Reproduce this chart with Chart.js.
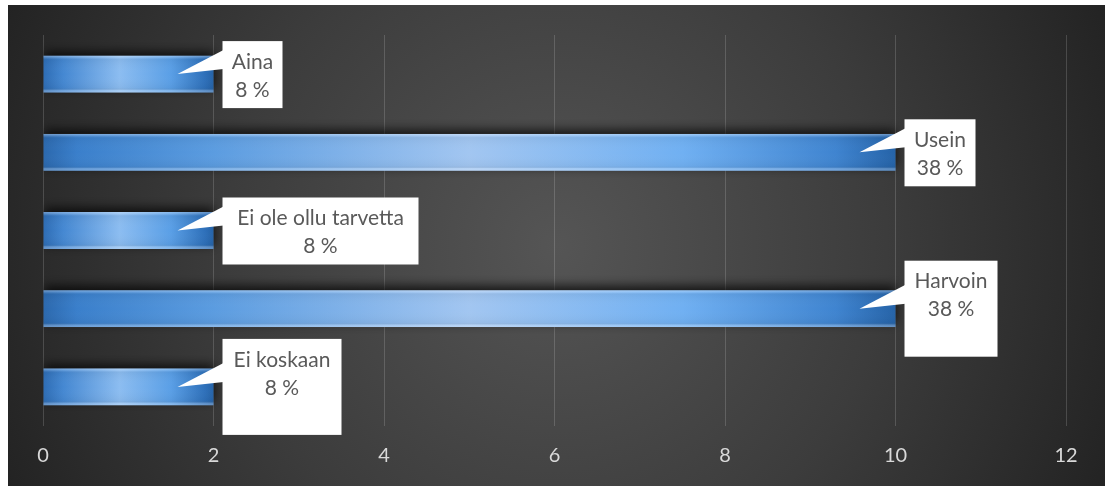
<!DOCTYPE html>
<html>
<head>
<meta charset="utf-8">
<script src="https://cdn.jsdelivr.net/npm/chart.js@4.4.1/dist/chart.umd.min.js"></script>
<style>
  html, body { margin: 0; padding: 0; background: #ffffff; }
  #wrap { width: 1105px; height: 486px; position: relative; }
</style>
</head>
<body>
<div id="wrap"><canvas id="c" width="1105" height="486"></canvas></div>
<script>
// ---- data ----
const categories = ["Aina", "Usein", "Ei ole ollu tarvetta", "Harvoin", "Ei koskaan"];
const counts = [2, 10, 2, 10, 2];
const percentLabels = ["8 %", "38 %", "8 %", "38 %", "8 %"];
const xTicks = [0, 2, 4, 6, 8, 10, 12];

// ---- callout box styling (sizes only, not data) ----
const calloutBoxes = [
  { w: 60,  h: 67, top: -33 },
  { w: 71,  h: 67, top: -33 },
  { w: 196, h: 67, top: -33 },
  { w: 93,  h: 96, top: -48 },
  { w: 119, h: 96, top: -48 }
];

const FONT = "Lato, 'Open Sans', sans-serif";

const bgPlugin = {
  id: 'bg',
  beforeDraw(chart) {
    const ctx = chart.ctx, W = chart.width, H = chart.height;
    ctx.save();
    ctx.fillStyle = '#ffffff';
    ctx.fillRect(0, 0, W, H);
    const x0 = 8, y0 = 5;
    const cx = (x0 + W) / 2, cy = (y0 + H) / 2;
    const g = ctx.createRadialGradient(cx, cy, 0, cx, cy, 600);
    g.addColorStop(0, '#555555');
    g.addColorStop(0.55, '#3c3c3c');
    g.addColorStop(1, '#232323');
    ctx.fillStyle = g;
    ctx.fillRect(x0, y0, W - x0, H - y0);
    ctx.restore();
  }
};

function barGradient(ctx, x0, x1, long) {
  const g = ctx.createLinearGradient(x0, 0, x1, 0);
  if (long) {
    g.addColorStop(0, '#2b68ad');
    g.addColorStop(0.04, '#3a7fcb');
    g.addColorStop(0.2, '#5b9ce0');
    g.addColorStop(0.5, '#a2c6f1');
    g.addColorStop(0.75, '#70b0f2');
    g.addColorStop(0.93, '#3f84d0');
    g.addColorStop(1, '#2563a8');
  } else {
    g.addColorStop(0, '#2d6cb4');
    g.addColorStop(0.12, '#4588d2');
    g.addColorStop(0.45, '#8cbdf1');
    g.addColorStop(0.75, '#5a9fe6');
    g.addColorStop(0.95, '#2e70ba');
    g.addColorStop(1, '#2563a8');
  }
  return g;
}

const barFxPlugin = {
  id: 'barfx',
  beforeDatasetDraw(chart) {
    const ctx = chart.ctx;
    ctx.save();
    ctx.shadowColor = 'rgba(0,0,0,0.75)';
    ctx.shadowBlur = 10;
    ctx.shadowOffsetY = -4;
  },
  afterDatasetDraw(chart) {
    const ctx = chart.ctx;
    ctx.restore();
    const meta = chart.getDatasetMeta(0);
    ctx.save();
    meta.data.forEach(bar => {
      const x0 = bar.base, x1 = bar.x;
      const top = bar.y - bar.height / 2, h = bar.height;
      const vg = ctx.createLinearGradient(0, top, 0, top + h);
      vg.addColorStop(0, 'rgba(255,255,255,0.35)');
      vg.addColorStop(0.06, 'rgba(255,255,255,0.12)');
      vg.addColorStop(0.12, 'rgba(0,0,0,0.04)');
      vg.addColorStop(0.5, 'rgba(255,255,255,0.0)');
      vg.addColorStop(0.88, 'rgba(0,0,0,0.04)');
      vg.addColorStop(0.94, 'rgba(255,255,255,0.22)');
      vg.addColorStop(1, 'rgba(255,255,255,0.3)');
      ctx.fillStyle = vg;
      ctx.fillRect(x0, top, x1 - x0, h);
    });
    ctx.restore();
  }
};

const calloutPlugin = {
  id: 'callouts',
  afterDatasetsDraw(chart) {
    const ctx = chart.ctx;
    const meta = chart.getDatasetMeta(0);
    ctx.save();
    meta.data.forEach((bar, i) => {
      const box = calloutBoxes[i];
      const vx = bar.x, cy = bar.y;
      const left = vx + 9, top = cy + box.top;
      const tipX = vx - 36, tipY = cy;
      ctx.fillStyle = '#ffffff';
      ctx.beginPath();
      ctx.moveTo(left + 1, tipY - 24);
      ctx.lineTo(tipX, tipY);
      ctx.lineTo(left + 1, tipY - 5);
      ctx.closePath();
      ctx.fill();
      ctx.fillRect(left, top, box.w, box.h);
      ctx.fillStyle = '#595959';
      ctx.font = '21px ' + FONT;
      ctx.textAlign = 'center';
      ctx.textBaseline = 'middle';
      const tx = left + box.w / 2;
      ctx.fillText(categories[i], tx, top + 21);
      ctx.fillText(percentLabels[i], tx, top + 49);
    });
    ctx.restore();
  }
};

new Chart(document.getElementById('c'), {
  type: 'bar',
  data: {
    labels: categories,
    datasets: [{
      data: counts,
      backgroundColor: (c) => {
        const chart = c.chart;
        const area = chart.chartArea;
        if (!area || c.type !== 'data') return '#4a90e2';
        const xs = chart.scales.x;
        const x0 = xs.getPixelForValue(0);
        const x1 = xs.getPixelForValue(c.raw);
        return barGradient(chart.ctx, x0, x1, c.raw > 5);
      },
      borderWidth: 0,
      barPercentage: 0.47,
      categoryPercentage: 1
    }]
  },
  options: {
    indexAxis: 'y',
    responsive: false,
    animation: false,
    devicePixelRatio: 1,
    layout: { padding: { left: 43, right: 39, top: 35, bottom: 0 } },
    plugins: { legend: { display: false }, tooltip: { enabled: false } },
    scales: {
      x: {
        min: 0, max: 12,
        afterBuildTicks: (s) => { s.ticks = xTicks.map(v => ({ value: v })); },
        grid: { color: 'rgba(255,255,255,0.16)', lineWidth: 1, drawTicks: false },
        border: { display: false },
        ticks: { color: '#d9d9d9', font: { family: FONT, size: 20 }, padding: 18 }
      },
      y: {
        display: false
      }
    }
  },
  plugins: [bgPlugin, barFxPlugin, calloutPlugin]
});
</script>
</body>
</html>
